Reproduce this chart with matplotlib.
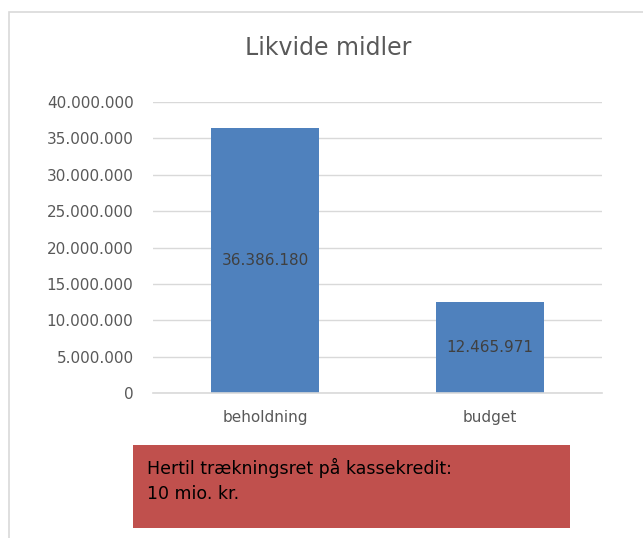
import matplotlib
matplotlib.use('Agg')
import matplotlib.pyplot as plt
from matplotlib.patches import Rectangle
from matplotlib.ticker import FuncFormatter

categories = ['beholdning', 'budget']
values = [36386180, 12465971]
y_ticks = [0, 5000000, 10000000, 15000000, 20000000, 25000000, 30000000, 35000000, 40000000]
title = 'Likvide midler'
note = 'Hertil trækningsret på kassekredit:\n10 mio. kr.'

W, H = 643, 538


def dotted(v, pos=None):
    return '{:,.0f}'.format(v).replace(',', '.')


fig = plt.figure(figsize=(W / 100, H / 100), dpi=100)
fig.patch.set_facecolor('white')

# outer chart border (cut off at right and bottom)
fig.patches.append(Rectangle((8.5 / W, -0.1), 1.2, 1 - 11.5 / H + 0.1,
                             transform=fig.transFigure, fill=False,
                             edgecolor='#D9D9D9', linewidth=1.2))

ax = fig.add_axes([153 / W, 1 - 393 / H, (602 - 153) / W, (393 - 102) / H])
bars = ax.bar(categories, values, width=0.48, color='#4F81BD', zorder=3)
ax.set_xlim(-0.5, 1.5)
ax.set_ylim(0, 40000000)
ax.set_yticks(y_ticks)
ax.yaxis.set_major_formatter(FuncFormatter(dotted))
ax.grid(axis='y', color='#D9D9D9', linewidth=1, zorder=0)
for s in ['top', 'right', 'left']:
    ax.spines[s].set_visible(False)
ax.spines['bottom'].set_color('#D9D9D9')
ax.spines['bottom'].set_linewidth(1.2)
ax.spines['bottom'].set_zorder(4)
ax.tick_params(axis='y', length=0, pad=14, labelsize=11, labelcolor='#595959')
ax.tick_params(axis='x', length=0, pad=12, labelsize=11, labelcolor='#595959')

for b, v in zip(bars, values):
    ax.text(b.get_x() + b.get_width() / 2, v / 2, dotted(v), ha='center', va='center',
            fontsize=11, color='#404040', zorder=5)

fig.text(328 / W, 1 - 48 / H, title, ha='center', va='center',
         fontsize=17, color='#595959')

# red note box
fig.patches.append(Rectangle((133 / W, 1 - 528 / H), (570 - 133) / W, (528 - 445) / H,
                             transform=fig.transFigure, facecolor='#C0504D',
                             edgecolor='none'))
fig.text(147 / W, 1 - 480 / H, note, ha='left', va='center', fontsize=12.5,
         color='black', linespacing=1.5)

fig.savefig('out.png', dpi=100)
